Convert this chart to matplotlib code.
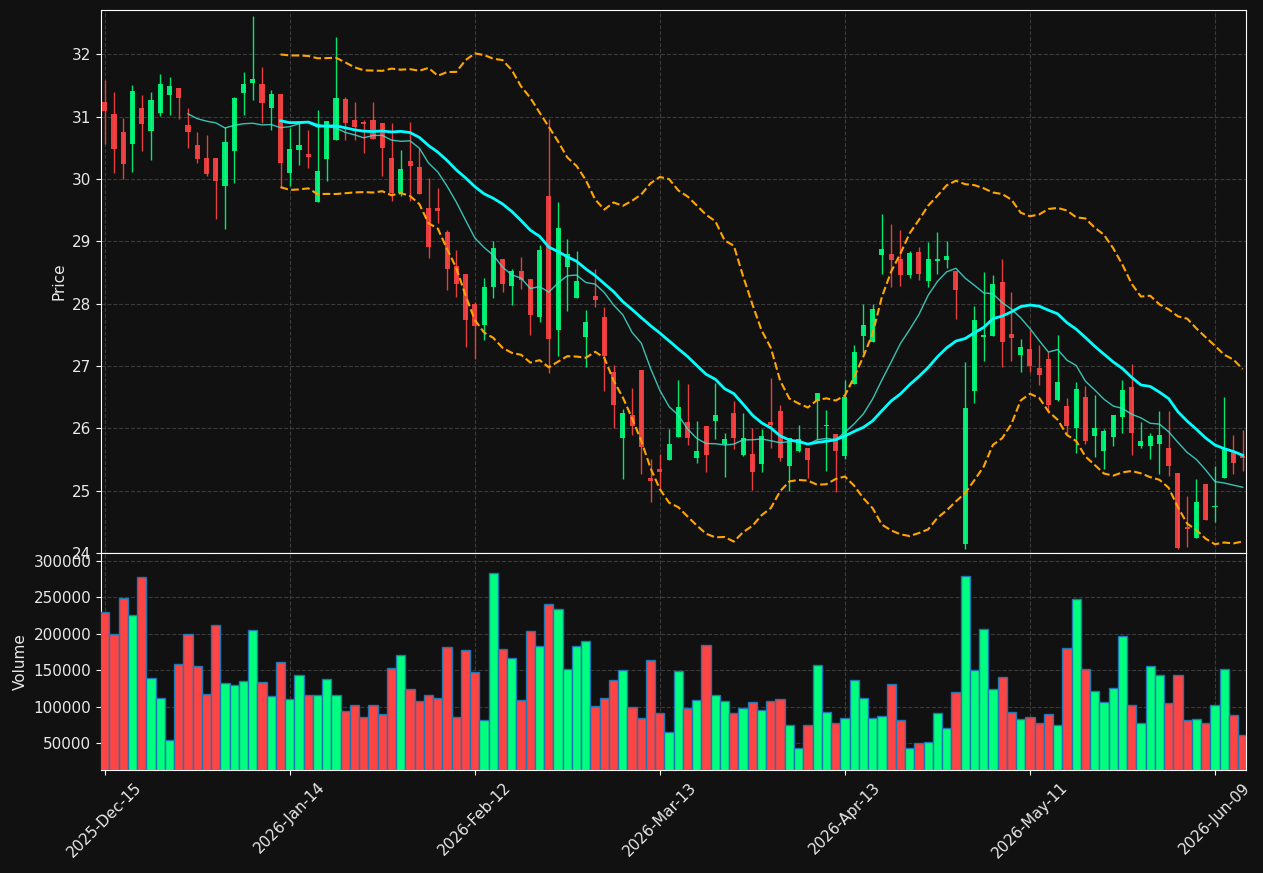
import numpy as np
import pandas as pd
import matplotlib
matplotlib.use("Agg")
import matplotlib.pyplot as plt

# daily OHLCV, one entry per trading day starting 2025-12-15
opens = [
    31.23, 31.04, 30.75, 30.56, 31.14, 30.77, 31.06, 31.35, 31.46, 30.86,
    30.54, 30.33, 30.33, 29.89, 30.45, 31.38, 31.54, 31.52, 31.14, 31.36,
    30.10, 30.47, 30.40, 29.63, 30.32, 30.63, 31.28, 30.95, 30.92, 30.95,
    30.90, 30.33, 29.77, 30.28, 30.19, 29.53, 29.53, 29.15, 28.61, 28.47,
    28.00, 27.66, 28.27, 28.72, 28.28, 28.52, 28.39, 27.79, 29.72, 27.57,
    28.59, 28.09, 27.46, 28.12, 27.78, 26.90, 25.84, 26.21, 26.93, 25.20,
    25.35, 25.49, 25.86, 26.10, 25.52, 26.03, 26.12, 25.75, 26.24, 25.57,
    25.58, 25.43, 26.10, 26.28, 25.39, 25.63, 25.68, 26.44, 26.03, 25.91,
    25.55, 26.71, 27.48, 27.39, 28.78, 28.80, 28.71, 28.46, 28.82, 28.36,
    28.69, 28.70, 28.52, 24.14, 26.60, 27.46, 27.48, 28.34, 27.51, 27.17,
    27.27, 26.96, 27.11, 26.46, 26.36, 26.00, 26.50, 25.87, 25.63, 25.86,
    26.18, 26.67, 25.72, 25.72, 25.74, 25.68, 25.29, 24.41, 24.24, 25.11,
    24.73, 25.21, 25.64, 25.55,
]
highs = [
    31.58, 31.40, 30.98, 31.50, 31.35, 31.40, 31.69, 31.63, 31.46, 31.13,
    30.76, 30.70, 30.33, 30.83, 31.31, 31.71, 32.61, 31.79, 31.42, 31.36,
    30.81, 30.90, 30.78, 31.11, 30.93, 32.27, 31.31, 31.24, 30.95, 31.24,
    30.90, 30.90, 30.47, 30.91, 30.49, 30.01, 29.85, 29.18, 28.86, 28.47,
    28.03, 28.41, 29.01, 28.72, 28.56, 28.74, 28.39, 28.94, 30.96, 29.63,
    29.04, 28.85, 27.90, 28.55, 27.94, 27.01, 26.31, 26.65, 26.93, 25.50,
    25.58, 25.99, 26.78, 26.71, 26.12, 26.03, 26.73, 25.93, 26.44, 26.24,
    26.00, 25.99, 26.81, 26.37, 25.84, 26.06, 25.68, 26.57, 26.29, 25.91,
    26.77, 27.33, 27.99, 27.99, 29.44, 29.28, 29.18, 28.84, 28.91, 28.99,
    29.15, 29.00, 28.52, 27.06, 27.96, 28.51, 28.46, 28.72, 28.18, 27.43,
    27.57, 27.34, 27.23, 27.50, 26.49, 26.75, 26.68, 26.53, 25.99, 26.21,
    26.77, 27.03, 26.10, 25.93, 26.28, 26.28, 25.29, 24.91, 25.18, 25.11,
    25.39, 26.50, 25.89, 25.98,
]
lows = [
    30.56, 30.09, 30.00, 30.11, 30.45, 30.31, 31.01, 31.02, 30.96, 30.50,
    30.25, 30.05, 29.36, 29.20, 29.93, 31.03, 31.27, 30.89, 30.78, 29.86,
    29.89, 30.23, 30.18, 29.63, 29.97, 30.63, 30.63, 30.63, 30.41, 30.64,
    30.05, 29.65, 29.72, 29.65, 29.75, 28.73, 29.30, 28.22, 28.11, 27.31,
    27.11, 27.41, 28.09, 28.18, 27.98, 28.24, 27.50, 27.70, 26.88, 27.16,
    27.88, 28.09, 26.99, 27.94, 26.60, 26.00, 25.19, 25.90, 25.27, 24.81,
    25.04, 25.49, 25.86, 25.73, 25.44, 25.30, 25.82, 25.22, 25.67, 25.55,
    25.01, 25.30, 25.69, 25.48, 24.99, 25.62, 25.20, 25.81, 25.31, 24.97,
    25.51, 26.71, 27.21, 27.39, 28.47, 28.26, 28.28, 28.41, 28.38, 28.26,
    28.47, 28.57, 27.76, 24.06, 26.40, 27.08, 27.48, 26.99, 27.08, 26.91,
    26.91, 26.69, 26.24, 26.43, 25.91, 25.60, 25.74, 25.54, 25.34, 25.72,
    25.93, 25.57, 25.68, 25.51, 25.27, 25.24, 24.06, 24.10, 24.24, 24.53,
    24.49, 25.21, 25.26, 25.31,
]
closes = [
    31.09, 30.48, 30.24, 31.41, 30.88, 31.26, 31.52, 31.49, 31.30, 30.76,
    30.32, 30.08, 29.97, 30.59, 31.30, 31.52, 31.60, 31.22, 31.36, 30.26,
    30.48, 30.54, 30.35, 30.12, 30.93, 31.30, 30.90, 30.83, 30.88, 30.64,
    30.49, 29.78, 30.16, 30.20, 29.76, 28.90, 29.48, 28.55, 28.32, 27.74,
    27.64, 28.26, 28.89, 28.31, 28.52, 28.38, 27.81, 28.86, 27.43, 29.21,
    28.80, 28.36, 27.70, 28.06, 27.16, 26.37, 26.25, 26.03, 25.70, 25.15,
    25.30, 25.74, 26.34, 25.84, 25.64, 25.57, 26.21, 25.83, 25.84, 25.84,
    25.30, 25.88, 26.05, 25.52, 25.84, 25.82, 25.49, 26.57, 26.06, 25.63,
    26.50, 27.22, 27.66, 27.91, 28.88, 28.70, 28.46, 28.81, 28.47, 28.72,
    28.72, 28.77, 28.22, 26.33, 27.73, 27.49, 28.31, 27.39, 27.44, 27.31,
    27.00, 26.85, 26.37, 26.74, 26.03, 26.63, 25.79, 26.00, 25.95, 26.21,
    26.61, 25.92, 25.79, 25.87, 25.90, 25.40, 24.08, 24.39, 24.82, 24.53,
    24.75, 25.69, 25.45, 25.53,
]
volumes = [
    229800, 199500, 249100, 225700, 278000, 139000, 111500, 53700, 158300, 199500,
    155500, 117000, 211900, 132100, 129400, 134900, 205000, 133500, 114200, 161000,
    110100, 143100, 115600, 115600, 137600, 115600, 93600, 101800, 85300, 101800,
    89500, 152800, 170600, 123900, 107300, 115600, 111500, 181700, 85300, 177500,
    147300, 81200, 283500, 178900, 166500, 108700, 203700, 183000, 240800, 233900,
    151400, 183000, 189900, 100500, 111500, 136200, 150000, 99100, 84000, 163800,
    90800, 64700, 148600, 97700, 108700, 184400, 115600, 107300, 90800, 97700,
    106000, 95000, 107300, 110100, 74300, 42700, 74300, 156900, 92200, 77100,
    84000, 136200, 111500, 84000, 86700, 130700, 81200, 42700, 49500, 50900,
    90800, 70200, 119700, 279400, 150000, 206400, 123900, 140400, 92200, 82600,
    85300, 77100, 89500, 74300, 180300, 247700, 151400, 121100, 106000, 125200,
    196800, 101800, 77100, 155500, 143100, 104600, 143100, 81200, 82600, 77100,
    101800, 151400, 88100, 60600,
]

# market holidays skipped between the first and last bar
holidays = ["2025-12-25", "2026-01-01", "2026-01-19", "2026-02-16",
            "2026-04-03", "2026-05-25"]
dates = pd.bdate_range("2025-12-15", periods=len(closes), freq="C",
                       holidays=holidays)

df = pd.DataFrame({"Open": opens, "High": highs, "Low": lows,
                   "Close": closes, "Volume": volumes}, index=dates)
ma10 = df["Close"].rolling(10).mean()
ma20 = df["Close"].rolling(20).mean()
std20 = df["Close"].rolling(20).std(ddof=0)
upper = ma20 + 2 * std20
lower = ma20 - 2 * std20

bg = "#111111"
up_color = "#00ff7f"
down_color = "#ff4444"

x = np.arange(len(df))
up = df["Close"].values >= df["Open"].values
colors = np.where(up, up_color, down_color)

fig = plt.figure(figsize=(12.63, 8.73), dpi=100, facecolor=bg)
ax = fig.add_axes([0.0800, 0.3666, 0.9065, 0.6220], facecolor=bg)
axv = fig.add_axes([0.0800, 0.1180, 0.9065, 0.2486], facecolor=bg, sharex=ax)

# candles
body_low = np.minimum(df["Open"], df["Close"]).values
body_h = np.maximum(np.abs(df["Close"] - df["Open"]).values, 0.012)
ax.vlines(x, df["Low"], df["High"], colors=colors, lw=1, alpha=0.9, zorder=2)
ax.bar(x, body_h, width=0.55, bottom=body_low, color=colors, alpha=0.9,
       linewidth=0, zorder=3)

ax.plot(x, ma10, color="#40e0d0", lw=1, alpha=0.85, zorder=4)
ax.plot(x, ma20, color="#00ffff", lw=2, zorder=4)
ax.plot(x, upper, color="#ffa500", lw=1.5, ls="--", zorder=4)
ax.plot(x, lower, color="#ffa500", lw=1.5, ls="--", zorder=4)

# volume
axv.bar(x, df["Volume"], width=1.0, color=colors, edgecolor="#1f77b4",
        linewidth=1, zorder=3)

tick_pos = x[::20]
tick_lab = [d.strftime("%Y-%b-%d") for d in dates[::20]]

for a in (ax, axv):
    a.grid(True, linestyle="--", color="#3a3a3a", linewidth=0.8, zorder=0)
    for s in a.spines.values():
        s.set_color("white")
    a.tick_params(colors="white", labelcolor="#e8e8e8", labelsize=11)

ax.set_xlim(-0.4, len(df) - 0.65)
ax.set_ylim(24.0, 32.71)
ax.set_yticks(np.arange(24, 33, 1))
ax.set_ylabel("Price", color="#e8e8e8", fontsize=11)
ax.tick_params(axis="x", labelbottom=False)

axv.set_ylim(13000, 311000)
axv.set_yticks(np.arange(50000, 300001, 50000))
axv.ticklabel_format(style="plain", axis="y")
axv.set_ylabel("Volume", color="#e8e8e8", fontsize=11)
axv.set_xticks(tick_pos)
axv.set_xticklabels(tick_lab, rotation=45, ha="center")

fig.savefig("out.png", dpi=100, facecolor=bg)
